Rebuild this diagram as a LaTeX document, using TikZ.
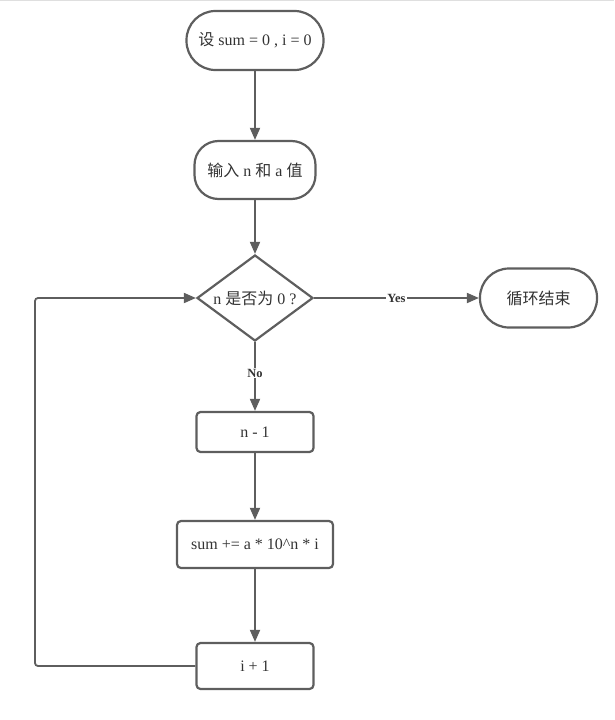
\documentclass[tikz,border=0pt]{standalone}
\usepackage{fontspec}
\setmainfont{Liberation Serif}
\newfontfamily\zh{Noto Sans CJK SC}
\usetikzlibrary{positioning,arrows.meta,shapes.geometric}
\definecolor{edgegray}{HTML}{5E5E5E}
\definecolor{textgray}{HTML}{333333}
\tikzset{
  base/.style={draw=edgegray, line width=2.2pt, text=textgray, font=\fontsize{16}{18}\selectfont, inner sep=2pt},
  terminal/.style={base, rectangle, rounded corners=29pt, minimum width=137pt, minimum height=59pt},
  inbox/.style={base, rectangle, rounded corners=24pt, minimum width=121pt, minimum height=58pt},
  procbox/.style={base, rectangle, rounded corners=4pt, minimum height=46pt},
  decision/.style={base, diamond, aspect=1.35, minimum width=116pt, minimum height=86pt, inner sep=0pt},
  arr/.style={draw=edgegray, line width=1.8pt, -{Triangle[length=12pt,width=10pt]}},
  lbl/.style={fill=white, inner sep=1pt, text=textgray, font=\fontsize{12.5}{14}\selectfont\bfseries}
}
\begin{document}
\begin{tikzpicture}[x=1pt,y=-1pt]
  \useasboundingbox (0,0) rectangle (614,720);
  \draw[gray!25, line width=1pt] (0,0.5) -- (614,0.5);
  % nodes
  \node[terminal] (init) at (255,40.5) {{\zh 设} sum = 0 , i = 0};
  \node[inbox] (input) at (255,170) {{\zh 输入} n {\zh 和} a {\zh 值}};
  \node[decision] (test) at (255,298) {n {\zh 是否为} 0 ?};
  \node[terminal, minimum width=117pt] (stop) at (538.5,298) {\zh 循环结束};
  \node[procbox, minimum width=117pt, minimum height=40pt] (dec) at (255,432) {n - 1};
  \node[procbox, minimum width=156pt, minimum height=47pt] (acc) at (255,544.5) {sum += a * 10\^{}n * i};
  \node[procbox, minimum width=117pt] (inc) at (255,666) {i + 1};
  \coordinate (back) at (35,666);
  % connectors
  \draw[arr] (init) -- (input);
  \draw[arr] (input) -- (test.north);
  \draw[arr] (test.east) -- node[lbl] {Yes} (stop);
  \draw[arr] (test.south) -- node[lbl, pos=0.45] {No} (dec);
  \draw[arr] (dec) -- (acc);
  \draw[arr] (acc) -- (inc);
  \draw[arr, rounded corners=3pt] (inc.west) -- (back) |- (test.west);
\end{tikzpicture}
\end{document}
